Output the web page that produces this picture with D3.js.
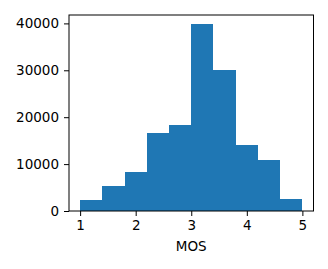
<!DOCTYPE html>
<html>
<head>
<meta charset="utf-8">
<script src="https://cdn.jsdelivr.net/npm/d3@7"></script>
<style>
  body { margin: 0; background: #fff; }
</style>
</head>
<body>
<div id="vis"></div>
<script>
// histogram bins (width 0.4 from 1 to 5) and their counts
const binEdges = [1.0, 1.4, 1.8, 2.2, 2.6, 3.0, 3.4, 3.8, 4.2, 4.6, 5.0]
const counts = [2350, 5300, 8300, 16600, 18300, 39800, 30000, 14050, 10850, 2550]
const xTicks = [1, 2, 3, 4, 5]
const yTicks = [0, 10000, 20000, 30000, 40000]
const xLabel = "MOS"

const W = 328, H = 269
const margin = { left: 69, top: 15, right: 14.5, bottom: 58 }
const width = W - margin.left - margin.right
const height = H - margin.top - margin.bottom
const font = "DejaVu Sans, sans-serif"
const fontSize = 13.5

const bins = counts.map((c, i) => ({ x0: binEdges[i], x1: binEdges[i + 1], count: c }))

// matplotlib style 5% margins on x, 5% headroom on y
let xScale = d3.scaleLinear().domain([0.8, 5.2]).range([0, width])
let yScale = d3.scaleLinear().domain([0, d3.max(counts) * 1.05]).range([height, 0])

let svg = d3.select("#vis").append("svg")
    .attr("width", W)
    .attr("height", H)
    .append("g")
    .attr("transform", "translate(" + margin.left + "," + margin.top + ")")

svg.selectAll("rect.bar")
    .data(bins)
    .enter().append("rect")
    .attr("class", "bar")
    .attr("x", d => xScale(d.x0))
    .attr("width", d => xScale(d.x1) - xScale(d.x0))
    .attr("y", d => yScale(d.count))
    .attr("height", d => yScale(0) - yScale(d.count))
    .attr("fill", "#1f77b4")
    .attr("shape-rendering", "crispEdges")

//xAxis
let xAxis = svg.append("g")
    .attr("transform", `translate(0,${height})`)
    .call(d3.axisBottom(xScale).tickValues(xTicks).tickFormat(d3.format("d")).tickSize(5).tickPadding(4))
    .attr("font-size", fontSize)
    .attr("font-family", font)
xAxis.select(".domain").remove()

//yAxis
let yAxis = svg.append("g")
    .call(d3.axisLeft(yScale).tickValues(yTicks).tickFormat(d3.format("d")).tickSize(5).tickPadding(5))
    .attr("font-size", fontSize)
    .attr("font-family", font)
yAxis.select(".domain").remove()

// spines
svg.append("rect")
    .attr("x", 0).attr("y", 0)
    .attr("width", width).attr("height", height)
    .attr("fill", "none")
    .attr("stroke", "#000")
    .attr("stroke-width", 1)

svg.append("text")
    .attr("x", width / 2)
    .attr("y", height + 40)
    .attr("text-anchor", "middle")
    .attr("font-size", fontSize)
    .attr("font-family", font)
    .text(xLabel)
</script>
</body>
</html>
